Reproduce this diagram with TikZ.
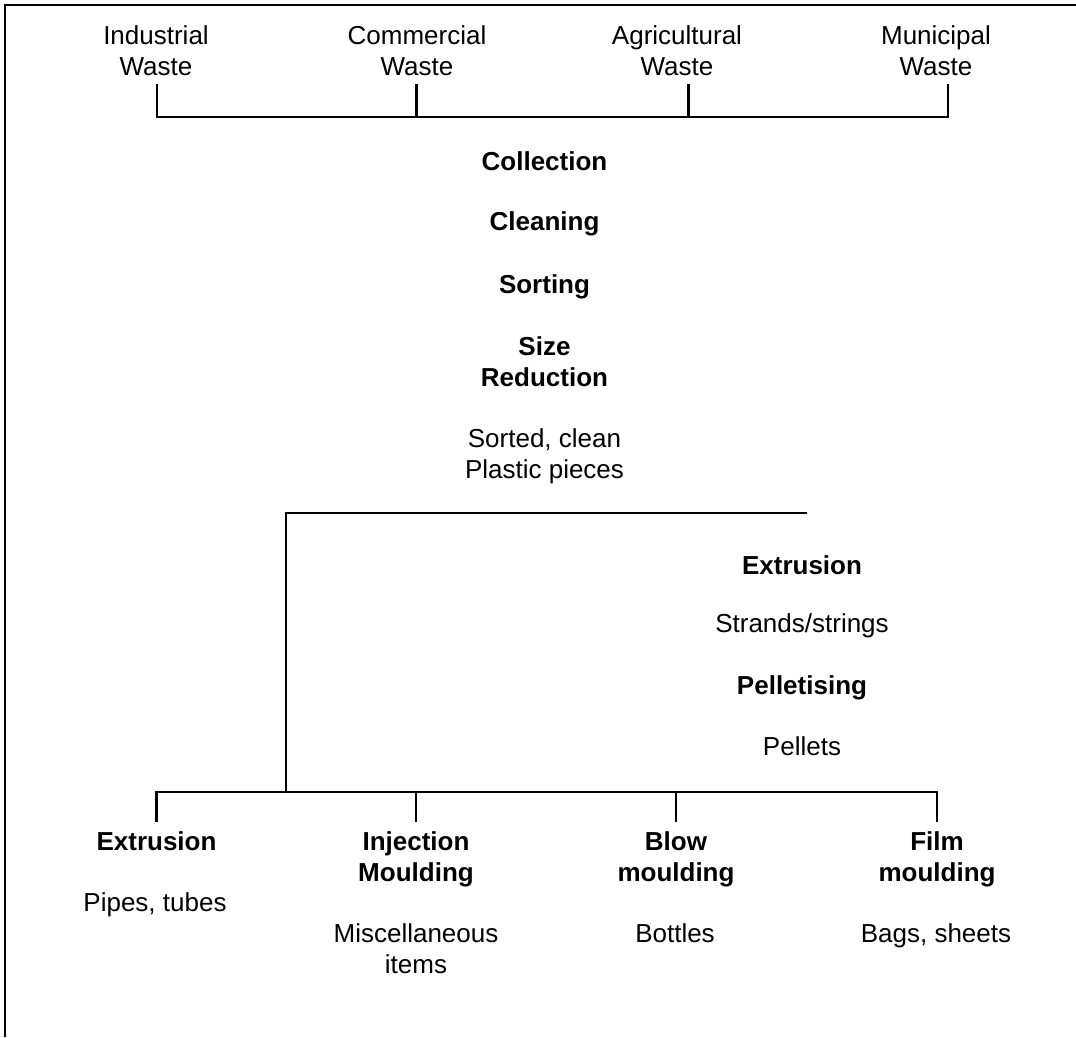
\documentclass[tikz,border=0pt]{standalone}
\usepackage{fontspec}
\setmainfont{Liberation Sans}
\begin{document}
\begin{tikzpicture}[x=1pt,y=-1pt,
  lab/.style={anchor=north,inner sep=0pt,align=center,font=\fontsize{26}{31}\selectfont},
  blab/.style={anchor=north,inner sep=0pt,align=center,font=\fontsize{26}{31}\selectfont\bfseries},
  conn/.style={line width=2.6pt,line join=miter},
  frame/.style={line width=1.8pt}]
\useasboundingbox (0,0) rectangle (1076,1037);
% frame
\draw[frame] (1076,5) -- (5,5) -- (5,1037);
% sources
\node[lab] (ind) at (156,25) {Industrial\\Waste};
\node[lab] (com) at (417,25) {Commercial\\Waste};
\node[lab] (agr) at (677,25) {Agricultural\\Waste};
\node[lab] (mun) at (936,25) {Municipal\\Waste};
\coordinate (j1) at (157,117);
\coordinate (j2) at (416.5,117);
\coordinate (j3) at (688.5,117);
\coordinate (j4) at (948,117);
\draw[conn] ([yshift=-9pt]ind.south -| j1) -- (j1) -- (j4) -- ([yshift=-9pt]mun.south -| j4);
\draw[conn] ([yshift=-9pt]com.south -| j2) -- (j2);
\draw[conn] ([yshift=-9pt]agr.south -| j3) -- (j3);
% process steps
\node[blab] (col) at (544.5,151.5) {Collection};
\node[blab] (cle) at (544.5,211.5) {Cleaning};
\node[blab] (sor) at (544.5,274) {Sorting};
\node[blab] (siz) at (544.5,336.5) {Size\\Reduction};
\node[lab] (pcs) at (544.5,428.5) {Sorted, clean\\Plastic pieces};
% branch
\coordinate (h1) at (286,513);
\coordinate (h2) at (807,513);
\coordinate (h3) at (286,792);
\draw[conn] (h2) -- (h1) -- (h3);
% pelletising route
\node[blab] (ext1) at (802,555) {Extrusion};
\node[lab] (str) at (802,613) {Strands/strings};
\node[blab] (pel) at (802,675) {Pelletising};
\node[lab] (pts) at (802,736.5) {Pellets};
% products
\node[blab] (ext2) at (156.5,831.5) {Extrusion};
\node[blab] (inj) at (416,831.5) {Injection\\Moulding};
\node[blab] (blo) at (676,831.5) {Blow\\moulding};
\node[blab] (fil) at (937,831.5) {Film\\moulding};
\node[lab] (pip) at (155,892) {Pipes, tubes};
\node[lab] (mis) at (416,923) {Miscellaneous\\items};
\node[lab] (bot) at (675,923) {Bottles};
\node[lab] (bag) at (936,923) {Bags, sheets};
\coordinate (k1) at (156.5,792);
\coordinate (k2) at (416,792);
\coordinate (k3) at (676,792);
\coordinate (k4) at (937,792);
\draw[conn] ([yshift=9.5pt]ext2.north -| k1) -- (k1) -- (k4) -- ([yshift=9.5pt]fil.north -| k4);
\draw[conn] ([yshift=9.5pt]inj.north -| k2) -- (k2);
\draw[conn] ([yshift=9.5pt]blo.north -| k3) -- (k3);
\end{tikzpicture}
\end{document}
